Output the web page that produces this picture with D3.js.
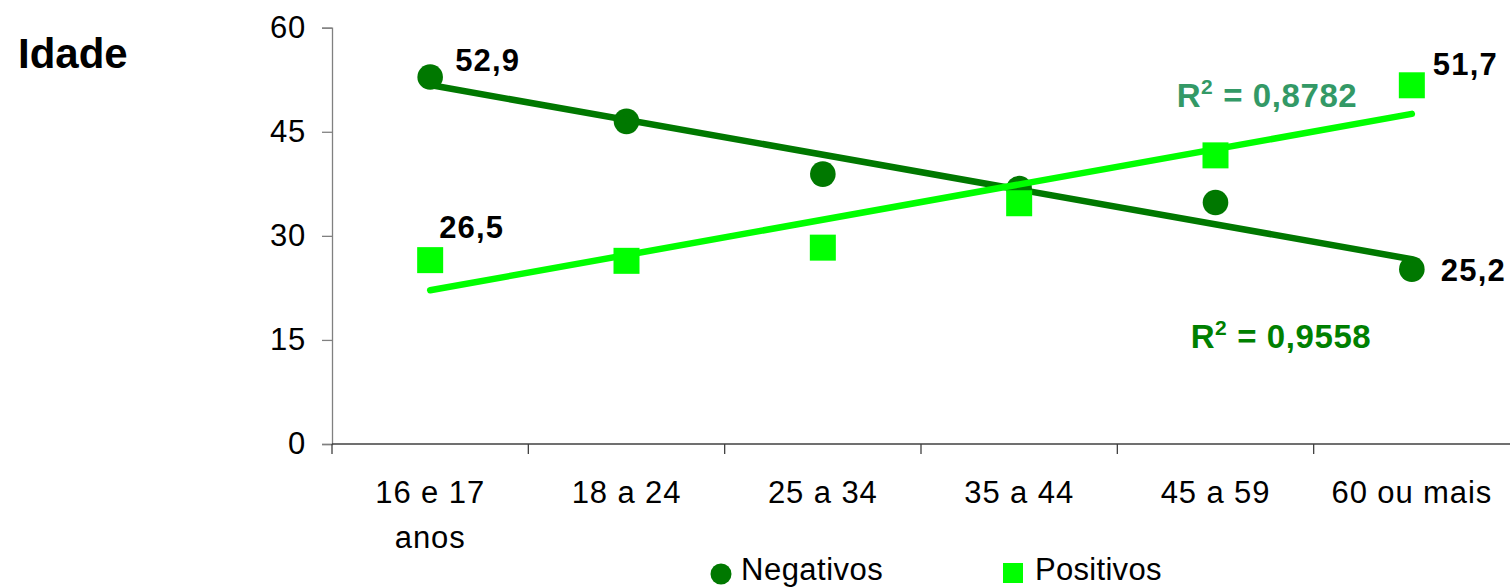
<!DOCTYPE html>
<html><head><meta charset="utf-8">
<script src="https://cdn.jsdelivr.net/npm/d3@7"></script>
<style>
html,body{margin:0;padding:0;background:#fff;}
svg{display:block;font-family:"Liberation Sans",Arial,sans-serif;}
</style></head>
<body>
<svg id="c" width="1510" height="587"></svg>
<script>
const categories = ["16 e 17|anos", "18 a 24", "25 a 34", "35 a 44", "45 a 59", "60 ou mais"];
const negativos = [52.9, 46.5, 38.9, 36.8, 34.8, 25.2];
const positivos = [26.5, 26.4, 28.3, 34.7, 41.6, 51.7];
const yTicks = [0, 15, 30, 45, 60];
const seriesNames = ["Negativos", "Positivos"];
const r2Labels = ["0,9558", "0,8782"];
const title = "Idade";

const colNeg = "#007800", colPos = "#00ff00";
const svg = d3.select("#c");
const x = d3.scaleBand().domain(categories).range([332, 1510]).padding(0);
const y = d3.scaleLinear().domain([0, 60]).range([444, 27.7]);
const cx = c => x(c) + x.bandwidth() / 2;

// title
svg.append("text").attr("x", 18).attr("y", 68).attr("font-size", 42).attr("font-weight", "bold").text(title);

// y axis
const ya = svg.append("g").attr("transform", "translate(332,0)")
  .call(d3.axisLeft(y).tickValues(yTicks).tickSize(10).tickPadding(16).tickFormat(d3.format("d")));
ya.select(".domain").attr("stroke", "#808080").attr("stroke-width", 1.3);
ya.selectAll(".tick line").attr("stroke", "#808080").attr("stroke-width", 1.3);
ya.selectAll(".tick text").attr("font-size", 31).attr("letter-spacing", 0.8).attr("fill", "#000").attr("font-family", "Liberation Sans, Arial, sans-serif");

// x axis
const xa = svg.append("g").attr("transform", "translate(0,444)");
xa.append("line").attr("x1", 332).attr("x2", 1510).attr("stroke", "#404040").attr("stroke-width", 1.3);
xa.selectAll("line.t").data(categories).enter().append("line").attr("class", "t")
  .attr("x1", d => x(d)).attr("x2", d => x(d)).attr("y1", 0).attr("y2", 10)
  .attr("stroke", "#404040").attr("stroke-width", 1.3);
xa.selectAll("text.c").data(categories).enter().append("text").attr("class", "c")
  .attr("text-anchor", "middle").attr("font-size", 31).attr("letter-spacing", 0.9).attr("x", d => cx(d))
  .each(function(d){
    const parts = d.split("|");
    d3.select(this).selectAll("tspan").data(parts).enter().append("tspan")
      .attr("x", cx(d)).attr("y", (p,i) => 59 + i * 45).text(p => p);
  });

// regression
function reg(vals){
  const n = vals.length, xs = vals.map((v,i)=>i+1);
  const mx = d3.mean(xs), my = d3.mean(vals);
  let sxy=0, sxx=0; xs.forEach((xi,i)=>{sxy+=(xi-mx)*(vals[i]-my); sxx+=(xi-mx)**2;});
  const b = sxy/sxx, a = my - b*mx;
  return [a + b*1, a + b*n];
}
const line = (vals, col) => {
  const [y0, y1] = reg(vals);
  svg.append("line").attr("x1", cx(categories[0])).attr("x2", cx(categories[categories.length-1]))
    .attr("y1", y(y0)).attr("y2", y(y1)).attr("stroke", col).attr("stroke-width", 6.5).attr("stroke-linecap", "round");
};

// markers
svg.selectAll("circle.n").data(negativos).enter().append("circle").attr("class","n")
  .attr("cx", (d,i)=>cx(categories[i])).attr("cy", d=>y(d)).attr("r", 12.8).attr("fill", colNeg);
line(negativos, colNeg);
svg.selectAll("rect.p").data(positivos).enter().append("rect").attr("class","p")
  .attr("x", (d,i)=>cx(categories[i])-13).attr("y", d=>y(d)-13).attr("width", 26).attr("height", 26).attr("fill", colPos);
line(positivos, colPos);

// data labels
const fmt = v => d3.format(".1f")(v).replace(".", ",");
const lab = (tx, ty, v) => svg.append("text").attr("x", tx).attr("y", ty).attr("font-size", 31).attr("letter-spacing", 1.2).attr("font-weight", "bold").text(fmt(v));
lab(cx(categories[0]) + 25, y(negativos[0]) - 6, negativos[0]);
lab(cx(categories[5]) + 29, y(negativos[5]) + 12, negativos[5]);
lab(cx(categories[0]) + 9, y(positivos[0]) - 22, positivos[0]);
lab(cx(categories[5]) + 21, y(positivos[5]) - 10, positivos[5]);

// R2 labels
const r2 = (tx, ty, txt, col) => {
  const t = svg.append("text").attr("x", tx).attr("y", ty).attr("font-size", 33).attr("letter-spacing", 0.6).attr("font-weight", "bold").attr("fill", col).attr("text-anchor", "middle");
  t.append("tspan").text("R");
  t.append("tspan").attr("font-size", 21).attr("dy", -13).text("2");
  t.append("tspan").attr("dy", 13).text(" = " + txt);
};
r2(1267, 107, r2Labels[1], "#339966");
r2(1281, 348, r2Labels[0], "#008000");

// legend
const lg = svg.append("g");
lg.append("circle").attr("cx", 721).attr("cy", 574).attr("r", 10.5).attr("fill", colNeg);
lg.append("text").attr("x", 741).attr("y", 580).attr("font-size", 31).attr("letter-spacing", 0.5).text(seriesNames[0]);
lg.append("rect").attr("x", 1003).attr("y", 563).attr("width", 20).attr("height", 20).attr("fill", colPos);
lg.append("text").attr("x", 1035).attr("y", 580).attr("font-size", 31).attr("letter-spacing", 0.3).text(seriesNames[1]);
</script>
</body></html>
